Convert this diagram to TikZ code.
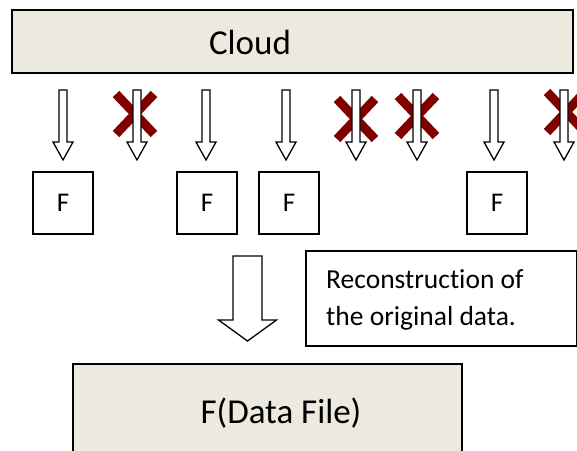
\documentclass[tikz,border=0pt]{standalone}
\usepackage{fontspec}
\setmainfont[Ligatures=NoCommon]{Carlito}
\definecolor{panel}{HTML}{ECE9DF}
\definecolor{crossred}{HTML}{800000}
% hollow block arrow: centre x, top y, head-start y, tip y, shaft half-width, head half-width
\newcommand\blockarr[6]{%
  \draw[arrowline] (#1-#5,#2) -- (#1+#5,#2) -- (#1+#5,#3) -- (#1+#6,#3)
    -- (#1,#4) -- (#1-#6,#3) -- (#1-#5,#3) -- cycle;}
% red cross centred at (x,y)
\newcommand\crossmark[2]{%
  \draw[crossline] (#1-19,#2-20) -- (#1+19,#2+20);
  \draw[crossline] (#1-19,#2+20) -- (#1+19,#2-20);}
\begin{document}
\begin{tikzpicture}[x=1pt,y=-1pt,
  panelbox/.style={draw=black,line width=2pt,fill=panel,inner sep=0pt},
  fragbox/.style={draw=black,line width=1.3pt,fill=white,minimum width=60pt,minimum height=62pt,inner sep=0pt,font=\fontsize{27}{29}\selectfont},
  notebox/.style={draw=black,line width=1.3pt,fill=white,inner sep=0pt},
  arrowline/.style={draw=black,line width=1.3pt,fill=white,line join=miter},
  crossline/.style={draw=crossred,line width=9pt,line cap=butt},
  bigtext/.style={font=\fontsize{35}{37}\selectfont},
  notetext/.style={font=\fontsize{27.5}{29}\selectfont,align=left,anchor=west,inner sep=0pt}]
\useasboundingbox (0,0) rectangle (577,450);

% cloud panel
\node[panelbox,minimum width=561pt,minimum height=63pt] (cloud) at (292.5,41.5) {};
\node[bigtext] (cloudtext) at (250,42) {Cloud};

% crossed-out transfers
\crossmark{135}{114}
\crossmark{356}{119}
\crossmark{417}{116}
\crossmark{566}{112}

% transfer arrows
\foreach \ax in {63,137,206,286,356,417,494,564}{
  \blockarr{\ax}{90}{142}{160}{4}{10}
}

% received fragments
\node[fragbox] (f1) at (63,203) {F};
\node[fragbox] (f2) at (207,203) {F};
\node[fragbox] (f3) at (289,203) {F};
\node[fragbox] (f4) at (497,203) {F};

% reconstruction arrow
\blockarr{247.5}{256}{320}{341}{14.5}{29}

% note
\node[notebox,minimum width=271pt,minimum height=95pt] (note) at (441.5,298.5) {};
\node[notetext] (noteline1) at (326,279) {Reconstruction of};
\node[notetext] (noteline2) at (326,318) {the original data.};

% reconstructed file
\node[panelbox,minimum width=389pt,minimum height=90pt] (file) at (267,409) {};
\node[bigtext] (filetext) at (281,413) {F(Data File)};
\end{tikzpicture}
\end{document}
